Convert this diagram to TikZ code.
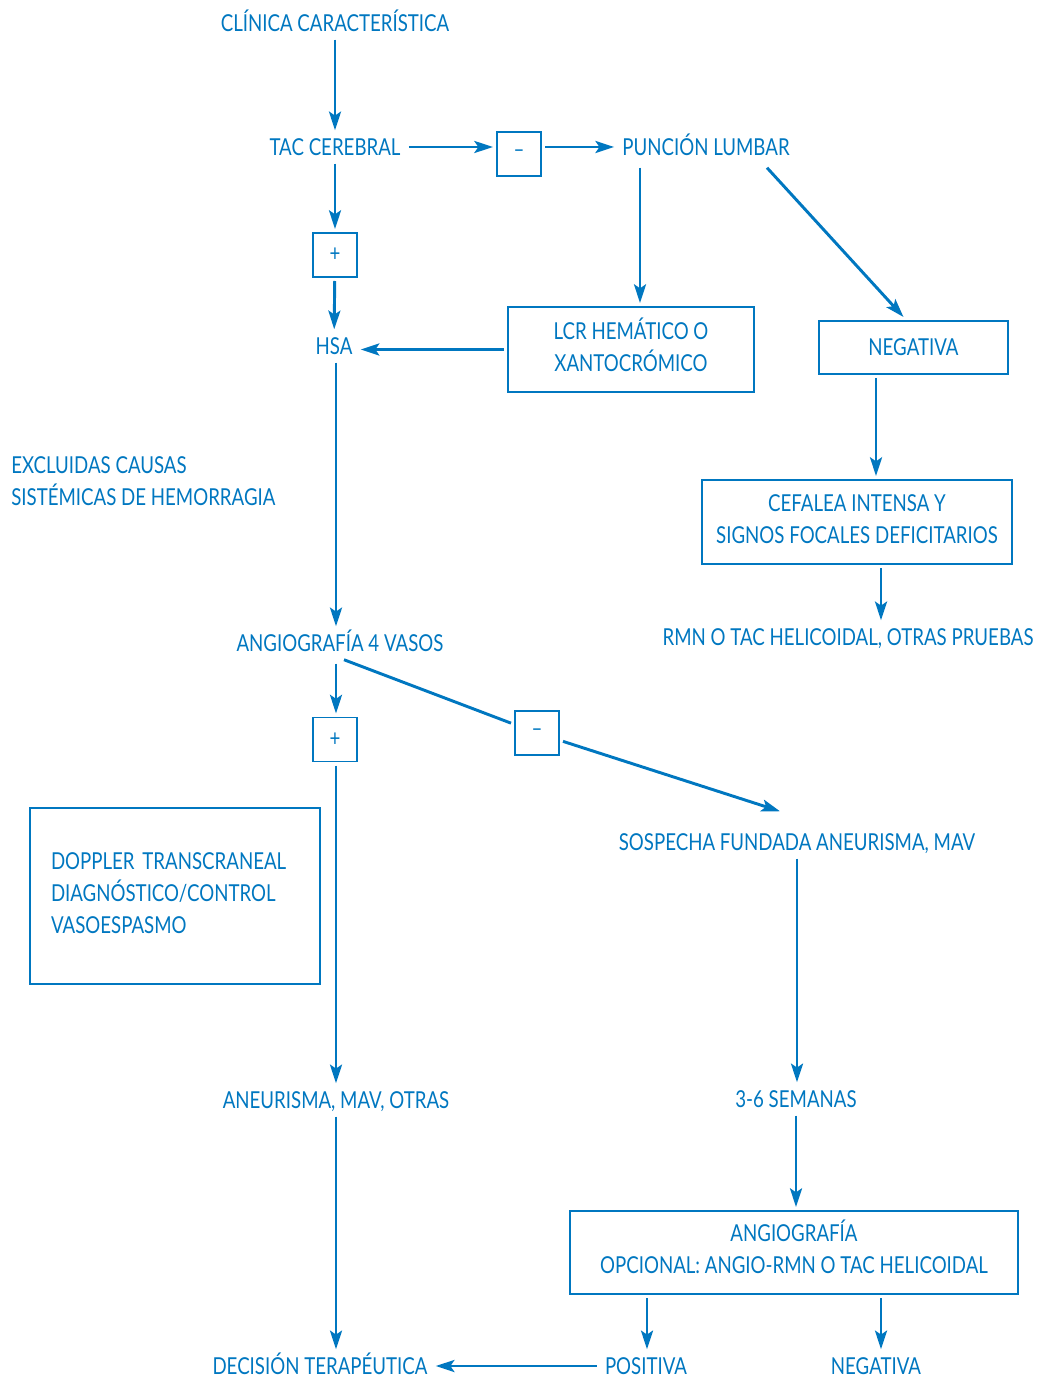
\documentclass[tikz,border=0pt]{standalone}
\usepackage{fontspec}
\setmainfont[FakeStretch=0.80]{Lato}
\usetikzlibrary{arrows.meta,calc}
\definecolor{blu}{RGB}{0,119,192}
\newcommand\lowstrut[1]{\rule[-#1]{0pt}{0pt}}
\begin{document}
\begin{tikzpicture}[x=0.75pt,y=-0.75pt,
  fnt/.style={font=\fontsize{17.5}{24}\selectfont},
  txt/.style={fnt,text=blu,inner xsep=6pt,inner ysep=6pt,text height=12.7pt,text depth=0pt},
  mtxt/.style={fnt,text=blu,inner sep=0pt,align=left},
  box/.style={fnt,draw=blu,line width=1pt,text=blu,align=center,outer sep=3pt,inner sep=0pt},
  sq/.style={box,minimum width=33pt,minimum height=33pt},
  ar/.style={draw=blu,line width=2.2pt,-{Stealth[length=14pt,width=9pt,inset=3pt]}},
  ln/.style={draw=blu,line width=2.2pt}]
\useasboundingbox (0,0) rectangle (1041,1383);
% text nodes
\node[txt] (clin) at (335,23) {CLÍNICA CARACTERÍSTICA};
\node[txt] (tac) at (335,147) {TAC CEREBRAL};
\node[txt] (punc) at (706,147) {PUNCIÓN LUMBAR};
\node[txt] (hsa) at (334,346) {HSA};
\node[txt] (rmn) at (848,637) {RMN O TAC HELICOIDAL, OTRAS PRUEBAS};
\node[mtxt,anchor=west] (excl) at (11,481) {EXCLUIDAS CAUSAS\\SISTÉMICAS DE HEMORRAGIA};
\node[txt] (angio) at (340,643) {ANGIOGRAFÍA 4 VASOS};
\node[txt] (sosp) at (797,842) {SOSPECHA FUNDADA ANEURISMA, MAV};
\node[txt] (s36) at (796,1099) {3-6 SEMANAS};
\node[txt] (aneu) at (336,1100) {ANEURISMA, MAV, OTRAS};
\node[txt] (pos) at (646,1366) {POSITIVA};
\node[txt] (neg2) at (876,1366) {NEGATIVA};
\node[txt] (dec) at (320,1366) {DECISIÓN TERAPÉUTICA};
% boxes
\node[sq] (m1) at (519,154) {–};
\node[sq] (p1) at (335,255) {+};
\node[sq] (p2) at (335,739.5) {+};
\node[sq] (m2) at (537,733) {–};
\node[box,minimum width=184.5pt,minimum height=63.75pt] (lcr) at (631,349.5) {LCR HEMÁTICO O\\XANTOCRÓMICO\lowstrut{7.5pt}};
\node[box,minimum width=141.75pt,minimum height=39.75pt] (neg1) at (913.5,347.5) {NEGATIVA};
\node[box,minimum width=232.5pt,minimum height=63pt] (cef) at (857,522) {CEFALEA INTENSA Y\\SIGNOS FOCALES DEFICITARIOS\lowstrut{4.5pt}};
\node[box,minimum width=217.5pt,minimum height=132pt,text width=186pt,align=left] (dop) at (175,896) {DOPPLER TRANSCRANEAL\\DIAGNÓSTICO/CONTROL\\VASOESPASMO\lowstrut{4.5pt}};
\node[box,minimum width=336pt,minimum height=62.25pt] (ang) at (794,1252.5) {ANGIOGRAFÍA\\OPCIONAL: ANGIO-RMN O TAC HELICOIDAL\lowstrut{9pt}};
% connectors
\draw[ar] (clin) -- (tac);
\draw[ar] (tac.east) -- (tac.east -| m1.west);
\draw[ar] (m1.east |- punc.west) -- (punc.west);
\draw[ar] (tac) -- (p1);
\draw[ar] (p1) -- (hsa);
\draw[ar] (lcr.west) -- (lcr.west -| hsa.east);
\draw[ar] ($(punc.south)+(-66,4)$) -- ($(lcr.north)+(9,0)$);
\draw[ar] ($(punc.south)+(61,4)$) -- ($(neg1.north)+(-10,0)$);
\draw[ar] ($(neg1.south)+(-37.5,0)$) -- ($(cef.north)+(19,0)$);
\draw[ar] ($(cef.south)+(24,0)$) -- ($(rmn.north)+(33,0)$);
\draw[ar] ($(hsa.south)+(2,0)$) -- ($(angio.north)+(-4,0)$);
\draw[ar] ($(angio.south)+(-4,4)$) -- ($(p2.north)+(1,0)$);
\draw[ln] ($(angio.south)+(4,0)$) -- (m2);
\draw[ar] (m2) -- ($(sosp.north)+(-17,-14)$);
\draw[ar] ($(p2.south)+(1,0)$) -- (aneu.north);
\draw[ar] (sosp) -- ($(s36.north)+(1,0)$);
\draw[ar] (s36) -- ($(ang.north)+(2,0)$);
\draw[ar] ($(ang.south)+(-147,0)$) -- ($(pos.north)+(1,0)$);
\draw[ar] ($(ang.south)+(87,0)$) -- ($(neg2.north)+(5,0)$);
\draw[ar] (pos.west) -- (pos.west -| dec.east);
\draw[ar] (aneu) -- ($(dec.north)+(16,0)$);
\end{tikzpicture}
\end{document}
